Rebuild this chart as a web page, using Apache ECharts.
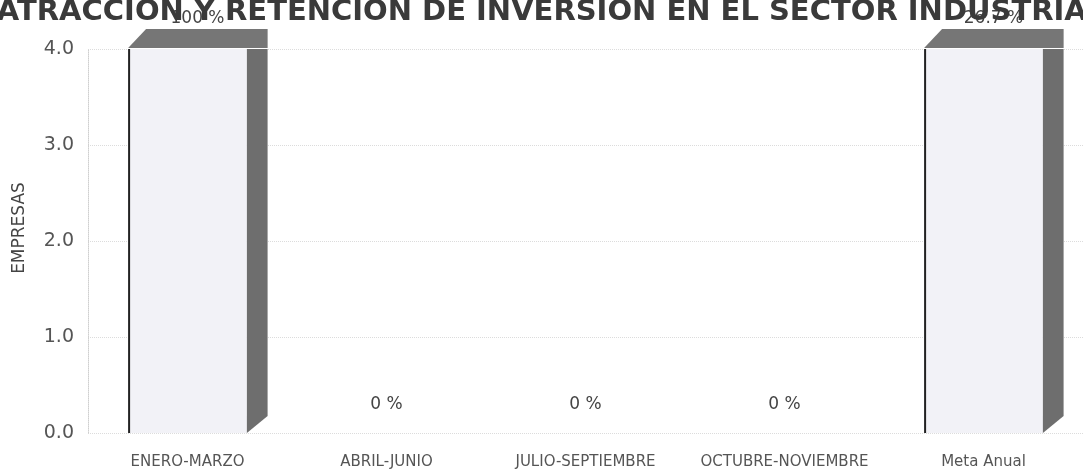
<!DOCTYPE html>
<html>
<head>
<meta charset="utf-8">
<script src="https://cdn.jsdelivr.net/npm/echarts@6/dist/echarts.min.js"></script>
<style>html,body{margin:0;padding:0;background:#fff}#c{width:1083px;height:473px}</style>
</head>
<body>
<div id="c"></div>
<script>
var titleText = 'ATRACCION Y RETENCION DE INVERSION EN EL SECTOR INDUSTRIAL';
var yAxisName = 'EMPRESAS';
var categories = ['ENERO-MARZO', 'ABRIL-JUNIO', 'JULIO-SEPTIEMBRE', 'OCTUBRE-NOVIEMBRE', 'Meta Anual'];
var values = [4, 0, 0, 0, 4];
var percentLabels = ['100 %', '0 %', '0 %', '0 %', '26.7 %'];

var chart = echarts.init(document.getElementById('c'), null, {renderer: 'canvas'});

function renderBar(params, api) {
  var i = api.value(0);
  var v = api.value(1);
  var top = api.coord([i, v]);
  var base = api.coord([i, 0]);
  var band = api.size([1, 0])[0];
  var cx = top[0];
  var fw = band * 0.597;
  var depth = band * 0.104;
  var x0 = cx - fw / 2, x1 = cx + fw / 2;
  var yT = top[1], y0 = base[1];
  var children = [];
  if (v > 0) {
    children.push({
      type: 'rect', shape: {x: x0, y: yT, width: fw, height: y0 - yT},
      style: {fill: '#f2f2f7'}
    });
    children.push({
      type: 'polygon', shape: {points: [[x1, yT], [x1 + depth, yT], [x1 + depth, y0 - 17], [x1, y0]]},
      style: {fill: '#6e6e6e'}
    });
    children.push({
      type: 'polygon', shape: {points: [[x0, yT - 1], [x0 + 18, yT - 20], [x1 + depth, yT - 20], [x1 + depth, yT - 1]]},
      style: {fill: '#767676'}
    });
    children.push({
      type: 'line', shape: {x1: x0 + 1, y1: yT, x2: x0 + 1, y2: y0},
      style: {stroke: '#222', lineWidth: 2}
    });
  }
  children.push({
    type: 'text',
    style: {
      x: cx + (v > 0 ? 10 : 0), y: yT - (v > 0 ? 30 : 28),
      text: percentLabels[i], align: 'center', verticalAlign: 'middle',
      fill: '#444', font: '17px "DejaVu Sans"'
    }
  });
  return {type: 'group', children: children};
}

var option = {
  backgroundColor: '#fff',
  animation: false,
  graphic: [{
    type: 'text', x: 551, y: 12, z: 10,
    style: {text: titleText, align: 'center', verticalAlign: 'middle',
      fill: '#3a3a3a', font: 'bold 29px "DejaVu Sans"'}
  }, {
    type: 'text', x: 20, y: 228, rotation: Math.PI / 2,
    style: {text: yAxisName, align: 'center', verticalAlign: 'middle',
      fill: '#444', font: '17px "DejaVu Sans"'}
  }],
  grid: {left: 88, top: 49, width: 1005, height: 384},
  xAxis: {
    type: 'category', data: categories,
    axisLine: {show: false}, axisTick: {show: false},
    axisLabel: {color: '#555', fontFamily: 'DejaVu Sans', fontSize: 15, margin: 22, interval: 0}
  },
  yAxis: {
    type: 'value', min: 0, max: 4, interval: 1,
    axisLine: {show: true, lineStyle: {color: '#cfcfcf', type: 'dotted'}},
    axisTick: {show: false},
    axisLabel: {color: '#555', fontFamily: 'DejaVu Sans', fontSize: 19, margin: 14,
      formatter: function (v) { return v.toFixed(1); }},
    splitLine: {show: true, lineStyle: {color: '#dcdcdc', type: 'dotted'}}
  },
  series: [{
    type: 'custom', clip: false,
    renderItem: renderBar,
    encode: {x: 0, y: 1},
    data: values.map(function (v, i) { return [i, v]; })
  }]
};
chart.setOption(option);
</script>
</body>
</html>
